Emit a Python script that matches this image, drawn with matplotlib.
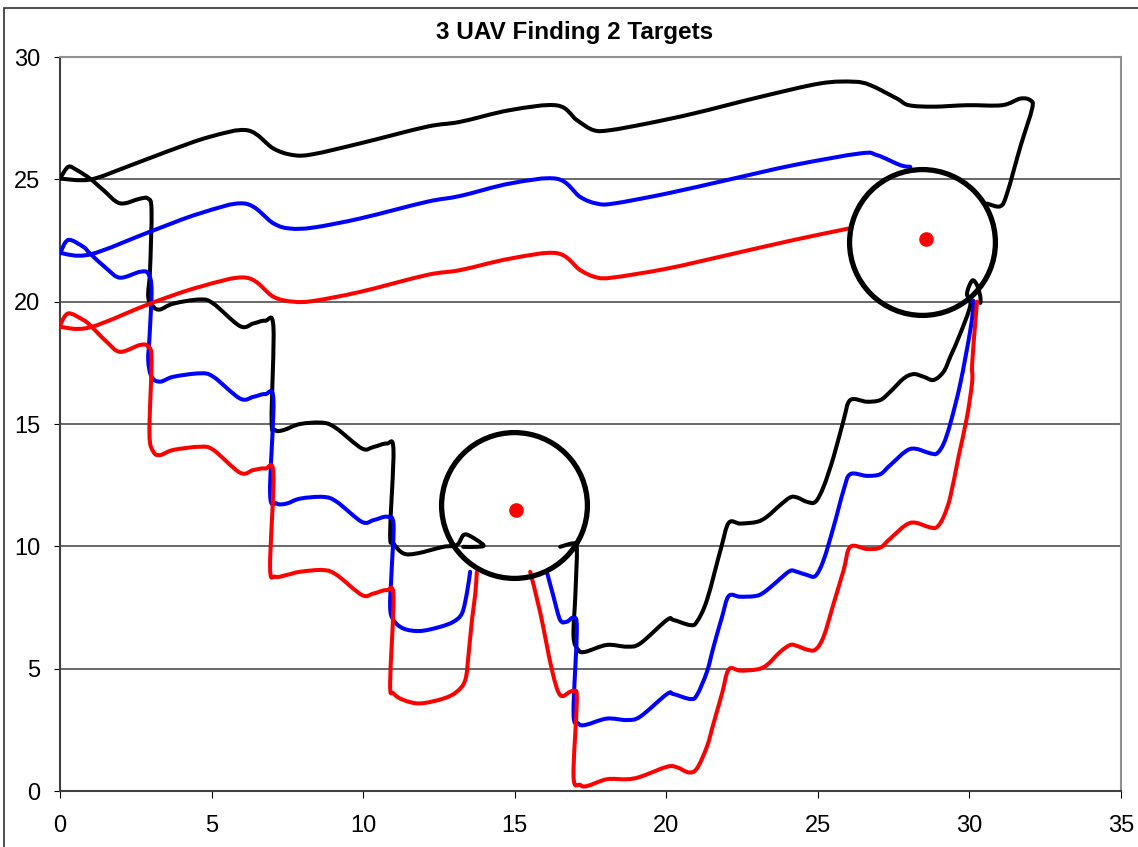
import matplotlib
matplotlib.use("Agg")
import matplotlib.pyplot as plt
from matplotlib.patches import Rectangle, PathPatch
from matplotlib.path import Path

plt.rcParams["font.family"] = ["Liberation Sans", "DejaVu Sans"]

# UAV 1 (black) - return leg along the top, staircase sweep, exit sweep
black_top_x = [0, 0.99, 2.2, 3.52, 4.95, 6.2, 7.04, 7.7, 8.36, 9.9, 12.1, 13.2, 14.85,
               16.4, 17.05, 17.6, 18.15, 19.36, 20.9, 23.1, 25.08, 26.18, 26.73, 27.61,
               28.0, 28.82, 29.92, 31.08, 31.68, 32.01, 32.07, 31.68, 31.24, 31.02, 30.58]
black_top_y = [25.03, 24.99, 25.51, 26.13, 26.74, 27.0, 26.26, 25.99, 26.03, 26.47, 27.15,
               27.35, 27.83, 28.02, 27.42, 27.01, 27.01, 27.28, 27.69, 28.37, 28.92, 28.99,
               28.85, 28.3, 28.03, 27.97, 28.03, 28.03, 28.3, 28.23, 27.9, 26.33, 24.42, 23.9, 24.01]
black_stair_x = [0, 0.27, 0.55, 0.99, 1.43, 1.98, 2.64, 2.91, 3.02, 2.97, 2.91, 3.08, 3.3, 3.74,
                 4.62, 5.06, 5.94, 6.38, 6.77, 7.04, 6.98, 7.1, 7.37, 7.92, 8.69, 9.13, 9.96,
                 10.34, 10.78, 11.0, 10.89, 11.0, 11.33, 11.77, 12.65, 13.09, 13.31, 13.53,
                 13.97, 13.75, 13.3]
black_stair_y = [25.03, 25.51, 25.38, 25.03, 24.56, 24.02, 24.21, 24.21, 23.74, 21.29, 20.2, 19.79,
                 19.68, 19.92, 20.09, 19.92, 19.0, 19.11, 19.22, 18.98, 15.16, 14.75, 14.75, 15.0,
                 15.05, 14.81, 14.0, 14.06, 14.2, 13.94, 10.53, 10.12, 9.71, 9.71, 9.98, 10.05,
                 10.46, 10.42, 10.05, 9.98, 9.98]
black_exit_x = [16.5, 16.94, 17.05, 17.0, 16.94, 17.1, 17.33, 18.04, 18.7, 19.14, 20.02, 20.24,
                20.79, 21.01, 21.34, 21.8, 22.06, 22.44, 22.99, 23.32, 23.76, 24.09, 24.31, 24.64,
                24.92, 25.19, 25.52, 25.85, 26.07, 26.62, 27.06, 27.39, 27.83, 28.16, 28.49,
                28.82, 29.15, 29.37, 29.7, 30.03, 29.92, 30.09, 30.25, 30.36, 30.36]
black_exit_y = [9.98, 10.12, 9.9, 8.0, 6.31, 5.76, 5.69, 5.97, 5.9, 6.03, 6.99, 6.99, 6.78, 6.92,
                7.8, 9.9, 10.96, 10.93, 11.0, 11.21, 11.69, 12.0, 12.0, 11.82, 11.82, 12.44, 13.66,
                15.16, 15.98, 15.91, 15.98, 16.32, 16.86, 17.04, 16.93, 16.8, 17.14, 17.75, 18.7,
                19.86, 20.33, 20.86, 20.68, 20.2, 19.95]

# UAV 2 (blue)
blue_top_x = [0, 0.99, 2.97, 4.62, 6.1, 7.04, 7.59, 8.36, 9.9, 12.1, 13.2, 14.85, 16.4,
              17.16, 17.71, 18.26, 20.02, 22.0, 24.2, 26.4, 26.95, 27.72, 28.05]
blue_top_y = [21.99, 21.93, 22.86, 23.61, 24.01, 23.2, 22.99, 23.03, 23.4, 24.08, 24.32,
              24.83, 25.02, 24.28, 24.01, 24.01, 24.42, 24.97, 25.58, 26.06, 25.99, 25.58, 25.51]
blue_stair_x = [0, 0.27, 0.77, 0.99, 1.54, 1.98, 2.64, 2.91, 3.02, 2.95, 2.91, 3.02, 3.3, 3.74,
                4.62, 5.06, 5.94, 6.38, 6.77, 7.04, 6.93, 7.15, 7.48, 7.92, 8.69, 9.13, 9.96,
                10.34, 10.78, 11.0, 10.94, 10.89, 11.0, 11.33, 11.88, 12.54, 12.98, 13.26, 13.42,
                13.53]
blue_stair_y = [21.97, 22.52, 22.24, 21.97, 21.35, 20.98, 21.22, 21.15, 20.47, 18.5, 17.6, 16.93,
                16.73, 16.93, 17.07, 16.93, 16.04, 16.11, 16.22, 15.98, 12.16, 11.75, 11.75, 11.95,
                12.02, 11.82, 11.0, 11.07, 11.21, 10.93, 9.03, 7.53, 6.99, 6.64, 6.54, 6.71, 6.92,
                7.26, 8.07, 8.96]
blue_exit_x = [16.06, 16.28, 16.5, 16.72, 16.94, 17.05, 16.94, 17.1, 17.33, 18.04, 18.7, 19.14,
               20.02, 20.24, 20.79, 21.01, 21.34, 21.56, 21.84, 22.06, 22.44, 22.99, 23.32, 23.76,
               24.09, 24.31, 24.64, 24.92, 25.19, 25.52, 25.85, 26.07, 26.62, 27.06, 27.39, 28.05,
               28.71, 28.93, 29.15, 29.37, 29.7, 30.03, 30.14, 30.09]
blue_exit_y = [8.96, 7.94, 6.99, 6.92, 7.08, 6.6, 3.2, 2.76, 2.7, 2.96, 2.9, 3.04, 3.96, 3.96,
               3.76, 3.92, 4.87, 5.9, 7.12, 7.97, 7.94, 7.98, 8.21, 8.68, 9.0, 8.96, 8.83, 8.79,
               9.44, 10.8, 12.3, 12.95, 12.88, 12.95, 13.32, 13.98, 13.8, 13.8, 14.2, 15.02, 16.66,
               18.84, 19.93, 20.0]

# UAV 3 (red)
red_top_x = [0, 0.99, 2.97, 4.62, 6.15, 7.04, 7.7, 8.36, 9.9, 12.1, 13.2, 14.85, 16.4,
             17.16, 17.71, 18.26, 20.02, 22.0, 24.2, 26.02]
red_top_y = [18.97, 18.95, 19.92, 20.61, 20.98, 20.2, 20.0, 20.03, 20.4, 21.09, 21.29,
             21.76, 21.98, 21.29, 20.99, 20.99, 21.35, 21.9, 22.52, 22.99]
red_stair_x = [0, 0.27, 0.77, 0.99, 1.54, 1.98, 2.64, 2.91, 3.02, 2.95, 3.08, 3.3, 3.74, 4.62,
               5.06, 5.94, 6.38, 6.77, 7.04, 6.93, 7.1, 7.48, 7.92, 8.69, 9.13, 9.96, 10.34,
               10.78, 11.0, 10.89, 11.0, 11.33, 11.88, 12.65, 13.09, 13.37, 13.48, 13.59, 13.7,
               13.75]
red_stair_y = [19.04, 19.52, 19.25, 19.04, 18.36, 17.95, 18.23, 18.16, 17.61, 14.61, 13.87, 13.73,
               13.94, 14.07, 13.94, 13.01, 13.12, 13.18, 12.97, 9.16, 8.76, 8.83, 8.96, 9.03, 8.83,
               8.01, 8.07, 8.21, 7.94, 4.4, 3.99, 3.72, 3.58, 3.78, 4.06, 4.54, 5.62, 6.99, 8.07,
               8.96]
red_exit_x = [15.51, 15.84, 16.23, 16.5, 16.83, 16.96, 17.05, 16.94, 17.16, 17.38, 18.04, 18.7,
              19.14, 20.02, 20.35, 20.74, 21.01, 21.34, 21.56, 21.84, 22.06, 22.44, 22.99, 23.32,
              23.76, 24.09, 24.31, 24.64, 24.92, 25.19, 25.52, 25.85, 26.07, 26.62, 27.06, 27.39,
              28.05, 28.71, 28.93, 29.15, 29.37, 29.64, 29.92, 30.09, 30.09, 30.2, 30.25]
red_exit_y = [8.96, 7.3, 4.94, 3.92, 4.06, 4.08, 3.72, 0.58, 0.25, 0.2, 0.48, 0.48, 0.58, 0.99,
              0.97, 0.76, 0.92, 1.81, 2.77, 3.99, 4.97, 4.92, 4.97, 5.15, 5.69, 5.97, 5.93, 5.78,
              5.78, 6.31, 7.66, 9.03, 9.98, 9.89, 9.95, 10.32, 10.96, 10.77, 10.79, 11.21, 12.03,
              13.66, 15.29, 16.73, 17.47, 19.25, 20.0]

# targets and the loiter circles around them
target_x = [15.04, 28.58]
target_y = [11.47, 22.56]
orbit_x = [14.99, 28.44]
orbit_y = [11.67, 22.45]


def smooth_path(xs, ys):
    """Bezier path through every point, like a spreadsheet 'smoothed line'."""
    pts = list(zip(xs, ys))
    n = len(pts)
    verts = [pts[0]]
    codes = [Path.MOVETO]
    for i in range(n - 1):
        p0 = pts[max(i - 1, 0)]
        p1 = pts[i]
        p2 = pts[i + 1]
        p3 = pts[min(i + 2, n - 1)]
        c1 = (p1[0] + (p2[0] - p0[0]) / 6, p1[1] + (p2[1] - p0[1]) / 6)
        c2 = (p2[0] - (p3[0] - p1[0]) / 6, p2[1] - (p3[1] - p1[1]) / 6)
        verts += [c1, c2, p2]
        codes += [Path.CURVE4] * 3
    return Path(verts, codes)


fig = plt.figure(figsize=(11.38, 8.47), dpi=100)
ax = fig.add_axes([60 / 1138, 1 - 791 / 847, (1121 - 60) / 1138, (791 - 57) / 847])

for xs, ys, col in [
    (black_top_x, black_top_y, "black"), (black_stair_x, black_stair_y, "black"),
    (black_exit_x, black_exit_y, "black"),
    (blue_top_x, blue_top_y, "#0000FF"), (blue_stair_x, blue_stair_y, "#0000FF"),
    (blue_exit_x, blue_exit_y, "#0000FF"),
    (red_top_x, red_top_y, "#FF0000"), (red_stair_x, red_stair_y, "#FF0000"),
    (red_exit_x, red_exit_y, "#FF0000"),
]:
    ax.add_patch(PathPatch(smooth_path(xs, ys), fill=False, edgecolor=col, lw=2.9,
                           joinstyle="round", capstyle="round", zorder=3))

ax.plot(orbit_x, orbit_y, ls="none", marker="o", ms=105, mfc="none", mec="black", mew=3.8, zorder=4)
ax.plot(target_x, target_y, ls="none", marker="o", ms=9.5, color="#FF0000", zorder=5)

ax.set_xlim(0, 35)
ax.set_ylim(0, 30)
ax.set_xticks(range(0, 36, 5))
ax.set_yticks(range(0, 31, 5))
ax.tick_params(axis="both", direction="out", labelsize=17, colors="black")
ax.tick_params(axis="x", length=5, pad=12)
ax.tick_params(axis="y", length=4, pad=10)
ax.yaxis.grid(True, color="#404040", lw=1.1)
ax.set_axisbelow(True)
for side in ["left", "bottom"]:
    ax.spines[side].set_color("#404040")
    ax.spines[side].set_linewidth(1.5)
for side in ["top", "right"]:
    ax.spines[side].set_color("#909090")
    ax.spines[side].set_linewidth(1.5)

fig.text(575 / 1138, 1 - 33 / 847, "3 UAV Finding 2 Targets", ha="center", va="center",
         fontsize=17.5, fontweight="bold")

# outer chart frame
fig.patches.append(Rectangle((4 / 1138, -0.2), 1.5, 1.2 - 8 / 847, transform=fig.transFigure,
                             fill=False, edgecolor="#303030", lw=1.2))

fig.savefig("out.png", dpi=100)
